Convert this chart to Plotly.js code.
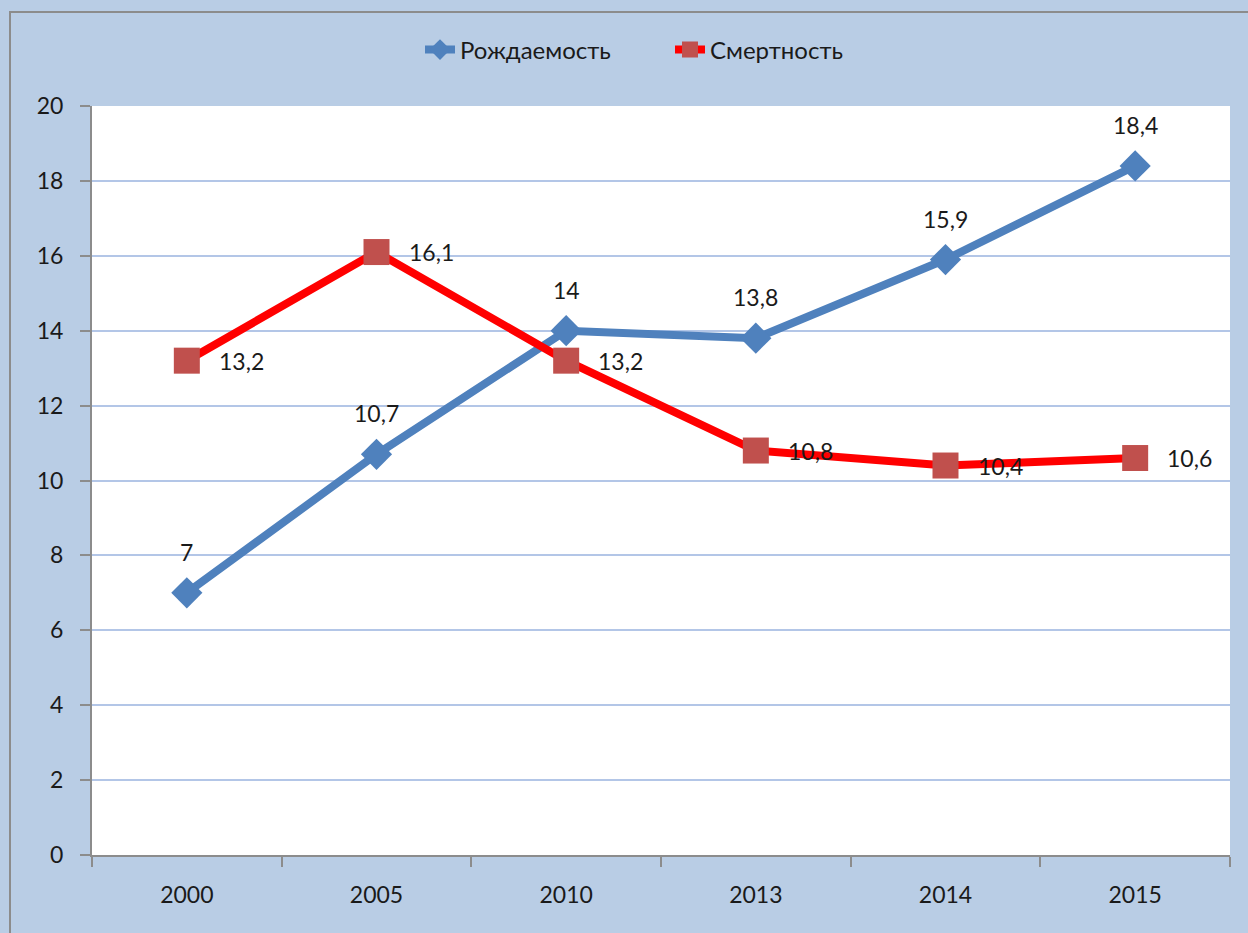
<!DOCTYPE html>
<html>
<head>
<meta charset="utf-8">
<script src="https://cdn.plot.ly/plotly-3.0.1.min.js"></script>
<style>html,body{margin:0;padding:0;background:#b9cde5;}#chart{width:1248px;height:933px;}</style>
</head>
<body>
<div id="chart"></div>
<script>
const years = ['2000', '2005', '2010', '2013', '2014', '2015'];
const births = [7, 10.7, 14, 13.8, 15.9, 18.4];
const deaths = [13.2, 16.1, 13.2, 10.8, 10.4, 10.6];
const seriesNames = ['Рождаемость', 'Смертность'];
const yTicks = [0, 2, 4, 6, 8, 10, 12, 14, 16, 18, 20];

const fmt = v => String(v).replace('.', ',');
const FONT = 'Lato, "Open Sans", sans-serif';
const FS = 23;
const TXT = '#1a1a1a';

const W = 1248, H = 933, L = 92, R = 18, T = 106, B = 78;
const pw = W - L - R, ph = H - T - B;
const px = x => (x - L) / pw;
const py = y => (H - B - y) / ph;

const traces = [
  {
    x: years, y: births, name: seriesNames[0], type: 'scatter', mode: 'lines+markers',
    line: {color: '#4f81bd', width: 8},
    marker: {symbol: 'diamond', size: 24, color: '#4f81bd'},
    cliponaxis: false
  },
  {
    x: years, y: deaths, name: seriesNames[1], type: 'scatter', mode: 'lines+markers',
    line: {color: '#ff0000', width: 8},
    marker: {symbol: 'square', size: 26, color: '#c0504d'},
    cliponaxis: false
  }
];

const annotations = [];
years.forEach((yr, i) => {
  annotations.push({
    x: i, y: births[i], xref: 'x', yref: 'y', text: fmt(births[i]),
    showarrow: false, xanchor: 'center', yanchor: 'middle', yshift: 41,
    font: {family: FONT, size: FS, color: TXT}
  });
  annotations.push({
    x: i, y: deaths[i], xref: 'x', yref: 'y', text: fmt(deaths[i]),
    showarrow: false, xanchor: 'left', yanchor: 'middle', xshift: 30,
    font: {family: FONT, size: FS, color: TXT}
  });
});

const layout = {
  width: W, height: H,
  paper_bgcolor: '#b9cde5', plot_bgcolor: '#ffffff',
  margin: {l: L, r: R, t: T, b: B},
  font: {family: FONT, size: FS, color: TXT},
  separators: ',.',
  showlegend: true,
  legend: {
    orientation: 'h', x: px(420), xanchor: 'left', y: py(50), yanchor: 'middle',
    bgcolor: 'rgba(0,0,0,0)', font: {family: FONT, size: 24, color: TXT},
    entrywidth: 205
  },
  xaxis: {
    type: 'category', range: [-0.5, 5.5],
    showgrid: false, zeroline: false,
    showline: true, linecolor: '#8c8c8c', linewidth: 2,
    ticks: 'outside', tickson: 'boundaries', ticklen: 10, tickcolor: '#8c8c8c', tickwidth: 2,
    ticklabelstandoff: 18,
    tickfont: {family: FONT, size: FS, color: TXT}
  },
  yaxis: {
    range: [0, 20], tickvals: yTicks, ticktext: yTicks.map(String),
    showgrid: true, gridcolor: '#b3c6e7', gridwidth: 2,
    zeroline: false,
    showline: true, linecolor: '#8c8c8c', linewidth: 2,
    ticks: 'outside', ticklen: 10, tickcolor: '#8c8c8c', tickwidth: 2,
    ticklabelstandoff: 12,
    tickfont: {family: FONT, size: FS, color: TXT}
  },
  annotations: annotations,
  shapes: [
    {type: 'rect', xref: 'paper', yref: 'paper', x0: px(10), x1: px(1260), y0: py(12), y1: py(950),
     line: {color: '#8c8c8c', width: 2}, fillcolor: 'rgba(0,0,0,0)', layer: 'below'}
  ]
};

Plotly.newPlot('chart', traces, layout, {displayModeBar: false, staticPlot: true});
</script>
</body>
</html>
